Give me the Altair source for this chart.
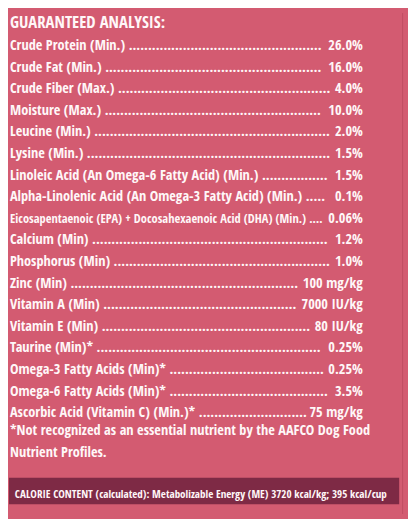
import altair as alt
import pandas as pd

title = "GUARANTEED ANALYSIS:"
nutrients = [
    "Crude Protein (Min.)",
    "Crude Fat (Min.)",
    "Crude Fiber (Max.)",
    "Moisture (Max.)",
    "Leucine (Min.)",
    "Lysine (Min.)",
    "Linoleic Acid (An Omega-6 Fatty Acid) (Min.)",
    "Alpha-Linolenic Acid  (An Omega-3 Fatty Acid) (Min.)",
    "Eicosapentaenoic (EPA) + Docosahexaenoic Acid (DHA) (Min.)",
    "Calcium (Min)",
    "Phosphorus (Min)",
    "Zinc (Min)",
    "Vitamin A (Min)",
    "Vitamin E (Min)",
    "Taurine (Min)*",
    "Omega-3 Fatty Acids (Min)*",
    "Omega-6 Fatty Acids (Min)*",
    "Ascorbic Acid (Vitamin C) (Min.)*",
]
amounts = [
    "26.0%", "16.0%", "4.0%", "10.0%", "2.0%", "1.5%", "1.5%", "0.1%", "0.06%",
    "1.2%", "1.0%", "100 mg/kg", "7000 IU/kg", "80 IU/kg", "0.25%", "0.25%",
    "3.5%", "75 mg/kg",
]
footnote = [
    "*Not recognized as an essential nutrient by the AAFCO Dog Food",
    "Nutrient Profiles.",
]
calorie = "CALORIE CONTENT (calculated): Metabolizable Energy (ME) 3720 kcal/kg;  395 kcal/cup"

BG = "#D35B71"
BOX = "#7E2A45"
FG = "#FFF7F8"
FONT = "Open Sans Condensed, Roboto Condensed, DejaVu Sans Condensed, sans-serif"
FS = 14.6
X0 = 2        # left edge of text column
XR = 362      # right edge of the amounts column

# rough advance widths (em) of the glyphs used in the amounts, for the leader length
EM = {c: 0.49 for c in "0123456789"}
EM.update({".": 0.24, "%": 0.72, " ": 0.2, "m": 0.73, "g": 0.47, "/": 0.3,
           "k": 0.47, "I": 0.26, "U": 0.55})


def amount_width(s, fs):
    return sum(EM.get(c, 0.5) for c in s) * fs


yscale = alt.Scale(domain=[-0.7105, 22.475], reverse=True)
Y = alt.Y("line:Q", scale=yscale, axis=None)

layers = []
for i, (lab, amt) in enumerate(zip(nutrients, amounts), start=1):
    fs_lab = FS if len(lab) < 55 else 12.7
    room = (XR - X0) - amount_width(amt, FS) - 4
    d = pd.DataFrame({"line": [i], "lead": [lab + " " + "." * 160], "amount": [amt]})
    layers.append(
        alt.Chart(d).mark_text(
            align="left", baseline="alphabetic", font=FONT, fontSize=fs_lab,
            color=FG, limit=room, ellipsis="",
        ).encode(x=alt.value(X0), y=Y, text="lead:N")
    )
    layers.append(
        alt.Chart(d).mark_text(
            align="right", baseline="alphabetic", font=FONT, fontSize=FS, color=FG,
        ).encode(x=alt.value(XR), y=Y, text="amount:N")
    )

head = pd.DataFrame({"line": [0], "text": [title]})
heading = alt.Chart(head).mark_text(
    align="left", baseline="alphabetic", font=FONT, fontSize=17, fontWeight="bold",
    color=FG,
).encode(x=alt.value(X0), y=Y, text="text:N")

notes = pd.DataFrame({"line": [19, 20], "text": footnote})
note_text = alt.Chart(notes).mark_text(
    align="left", baseline="alphabetic", font=FONT, fontSize=FS, color=FG, dy=-4,
).encode(x=alt.value(X0), y=Y, text="text:N")

cal_line = 21.41
cal = pd.DataFrame({"line": [cal_line], "lo": [cal_line - 0.61], "hi": [cal_line + 0.61],
                    "text": [calorie]})
box = alt.Chart(cal).mark_rect(color=BOX).encode(
    x=alt.value(1), x2=alt.value(399),
    y=alt.Y("lo:Q", scale=yscale, axis=None), y2="hi:Q",
)
cal_text = alt.Chart(cal).mark_text(
    align="left", baseline="alphabetic", font=FONT, fontSize=11.3, color=FG, dy=7,
).encode(x=alt.value(7), y=Y, text="text:N")

edge = alt.Chart(cal).mark_rule(color="#BF4C63", strokeWidth=1).encode(
    x=alt.value(402.5), y=alt.value(0), y2=alt.value(511)
)

chart = alt.layer(
    edge, *layers, heading, note_text, box, cal_text
).properties(
    width=408, height=511, background=BG, padding=0, autosize="none",
).configure_view(stroke=None)

chart.save("out.html", embed_options={"renderer": "svg", "actions": False})
